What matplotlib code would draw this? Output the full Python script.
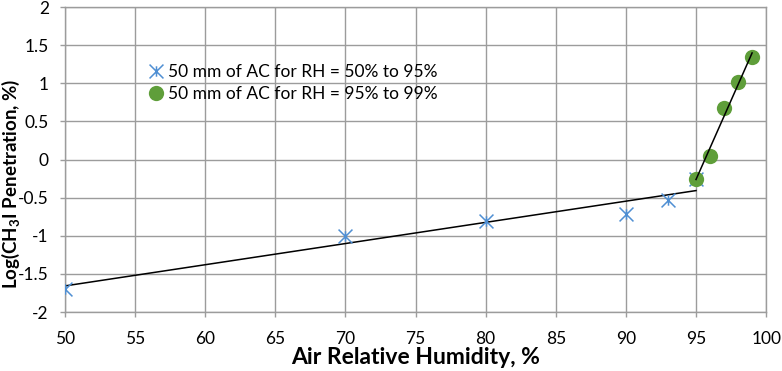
import matplotlib
matplotlib.use("Agg")
import matplotlib.pyplot as plt
import numpy as np
from matplotlib.path import Path

plt.rcParams["font.family"] = ["Lato", "DejaVu Sans"]
plt.rcParams["mathtext.fontset"] = "custom"
plt.rcParams["mathtext.rm"] = "Lato"
plt.rcParams["mathtext.bf"] = "Lato:bold"

# data
rh_low = [50, 70, 80, 90, 93, 95]
pen_low = [-1.70, -1.00, -0.80, -0.72, -0.53, -0.25]
rh_high = [95, 96, 97, 98, 99]
pen_high = [-0.25, 0.05, 0.68, 1.02, 1.34]

x_ticks = list(range(50, 101, 5))
y_ticks = [-2, -1.5, -1, -0.5, 0, 0.5, 1, 1.5, 2]
y_labels = ["-2", "-1.5", "-1", "-0.5", "0", "0.5", "1", "1.5", "2"]

label_low = "50 mm of AC for RH = 50% to 95%"
label_high = "50 mm of AC for RH = 95% to 99%"

blue = "#4f8fd3"
green = "#5f9e3a"
grid_c = "#9c9c9c"

# Excel-like "star" marker: an X with a short vertical bar
star = Path([(-1, -1), (1, 1), (-1, 1), (1, -1), (0, -0.75), (0, 0.75)],
            [Path.MOVETO, Path.LINETO, Path.MOVETO, Path.LINETO, Path.MOVETO, Path.LINETO])

fig = plt.figure(figsize=(7.82, 3.71), dpi=100)
ax = fig.add_axes([0.0831, 0.159, 0.8966, 0.822])

# linear trendlines for each series
c1 = np.polyfit(rh_low, pen_low, 1)
c2 = np.polyfit(rh_high, pen_high, 1)
xl = np.array([rh_low[0], rh_low[-1]])
xh = np.array([rh_high[0], rh_high[-1]])
ax.plot(xl, np.polyval(c1, xl), color="black", lw=1.1, zorder=2)

ax.plot(rh_low, pen_low, linestyle="none", marker=star, markersize=10,
        markerfacecolor="none", markeredgecolor=blue, markeredgewidth=1.1,
        label=label_low, zorder=3)
ax.plot(rh_high, pen_high, linestyle="none", marker="o", markersize=11,
        color=green, markeredgewidth=0, label=label_high, zorder=4)
ax.plot(xh, np.polyval(c2, xh), color="black", lw=1.1, zorder=5)

ax.set_xlim(50, 100)
ax.set_ylim(-2, 2)
ax.set_xticks(x_ticks)
ax.set_yticks(y_ticks)
ax.set_yticklabels(y_labels)
ax.tick_params(length=3.6, width=1, color=grid_c, labelsize=12.5)
ax.tick_params(axis="y", pad=8)
ax.tick_params(axis="x", pad=10)
ax.grid(True, color=grid_c, lw=1)
ax.set_axisbelow(True)
for s in ax.spines.values():
    s.set_color(grid_c)
    s.set_linewidth(1)

ax.set_xlabel("Air Relative Humidity, %", fontsize=16.5, fontweight="bold", labelpad=0)
ax.set_ylabel(r"Log(CH$_{\mathbf{3}}$I Penetration, %)", fontsize=13.5,
              fontweight="bold")
ax.yaxis.set_label_coords(-0.062, 0.42)

ax.legend(loc="upper left", bbox_to_anchor=(0.105, 0.835), frameon=False,
          fontsize=12.5, handletextpad=0.1, handlelength=1.2, labelspacing=0.35,
          borderaxespad=0)

fig.savefig("out.png", dpi=100)
